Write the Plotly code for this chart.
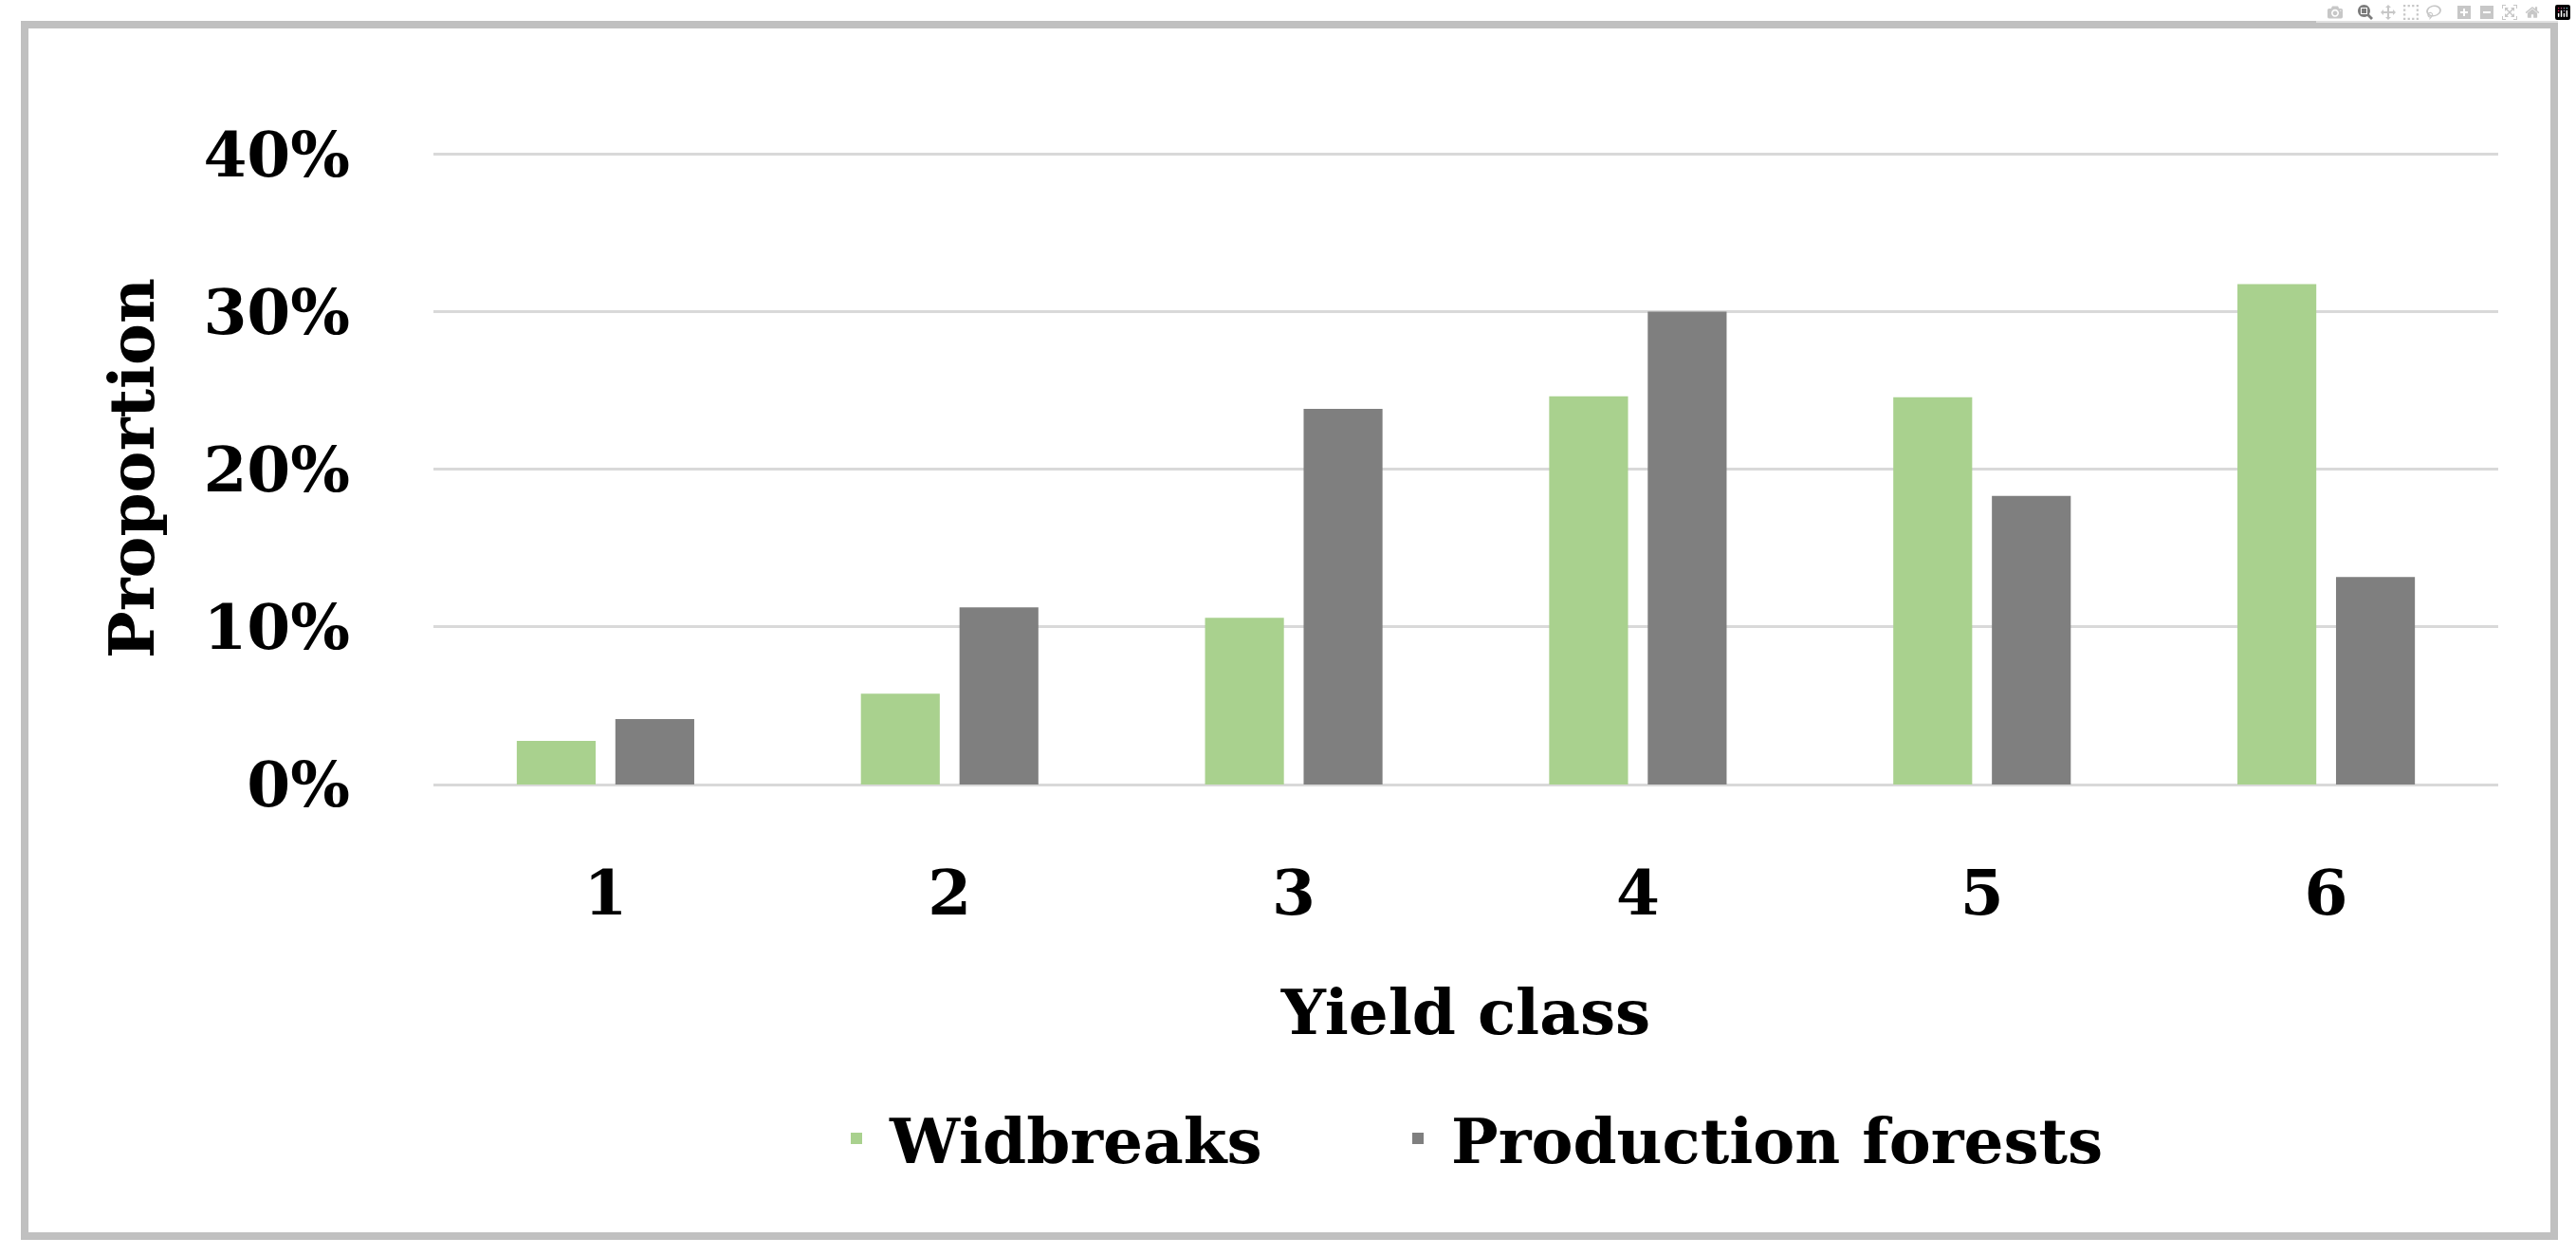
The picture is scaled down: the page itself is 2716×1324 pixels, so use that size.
import plotly.graph_objects as go

categories = ["1", "2", "3", "4", "5", "6"]
widbreaks = [2.77, 5.77, 10.58, 24.64, 24.58, 31.75]
production_forests = [4.15, 11.24, 23.83, 30.0, 18.32, 13.17]
series_names = ["Widbreaks", "Production forests"]
series_colors = ["#A9D18E", "#7F7F7F"]
y_ticks = [0, 10, 20, 30, 40]
y_ticklabels = ["0%", "10%", "20%", "30%", "40%"]

FONT = "DejaVu Serif"
FS = 66

fig = go.Figure()
fig.add_trace(go.Bar(x=categories, y=widbreaks, name=series_names[0], legend="legend",
                     marker=dict(color=series_colors[0], line=dict(width=0))))
fig.add_trace(go.Bar(x=categories, y=production_forests, name=series_names[1], legend="legend2",
                     marker=dict(color=series_colors[1], line=dict(width=0))))

W, H = 2716, 1324
L, R, T, B = 457, 82, 160, 497
pw, ph = W - L - R, H - T - B

def px(x):
    return (x - L) / pw

def py(y):
    return (H - B - y) / ph

legend_font = dict(family=FONT, size=FS, color="black", weight="bold")

fig.update_layout(
    width=W, height=H,
    margin=dict(l=L, r=R, t=T, b=B, pad=0),
    paper_bgcolor="white", plot_bgcolor="white",
    barmode="group", bargap=0.427, bargroupgap=0.2,
    font=dict(family=FONT, size=FS, color="black", weight="bold"),
    showlegend=True,
    legend=dict(orientation="h", x=px(868), xanchor="left", y=py(1200), yanchor="middle",
                font=legend_font, itemwidth=60, bgcolor="rgba(0,0,0,0)"),
    legend2=dict(orientation="h", x=px(1460), xanchor="left", y=py(1200), yanchor="middle",
                 font=legend_font, itemwidth=60, bgcolor="rgba(0,0,0,0)"),
    xaxis=dict(type="category", showgrid=False, showline=False, zeroline=False,
               ticks="", ticklabelstandoff=70,
               tickfont=dict(family=FONT, size=FS, color="black", weight="bold"),
               title=dict(text="Yield class", standoff=64,
                          font=dict(family=FONT, size=FS, color="black", weight="bold"))),
    yaxis=dict(range=[0, 40.15], tickvals=y_ticks, ticktext=y_ticklabels,
               showgrid=True, gridcolor="#D9D9D9", gridwidth=3,
               zeroline=True, zerolinecolor="#D9D9D9", zerolinewidth=3,
               showline=False, ticks="", ticklabelstandoff=87,
               tickfont=dict(family=FONT, size=FS, color="black", weight="bold"),
               title=dict(text="Proportion", standoff=30,
                          font=dict(family=FONT, size=FS, color="black", weight="bold"))),
    shapes=[dict(type="rect", xref="paper", yref="paper",
                 x0=px(26), x1=px(2693), y0=py(1303), y1=py(26),
                 line=dict(color="#C0C0C0", width=8), fillcolor="rgba(0,0,0,0)", layer="below")],
)

fig.write_html("out.html", post_script="document.body.style.margin='0';document.body.style.overflow='hidden';")
